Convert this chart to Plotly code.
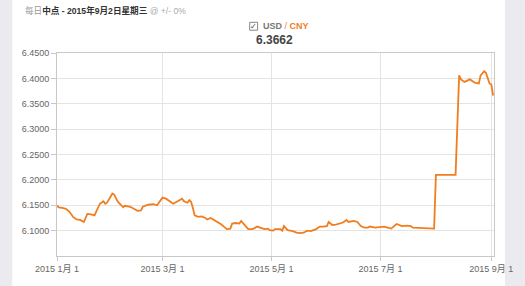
import datetime as dt
import plotly.graph_objects as go

# Day offsets from 2015-01-01 and USD/CNY central parity values
day_offsets = [0, 1, 3, 5, 7, 9, 11, 13, 15, 16, 17, 19, 21, 22, 23, 24, 26, 27, 28, 30,
               31, 32, 34, 36, 37, 38, 41, 43, 45, 47, 48, 51, 54, 56, 58, 59, 61, 63, 65, 67,
               69, 70, 71, 73, 74, 75, 76, 77, 79, 81, 83, 84, 86, 88, 90, 92, 94, 95, 97, 98,
               100, 102, 103, 105, 107, 109, 110, 112, 114, 116, 118, 119, 121, 122, 125, 126, 127, 129, 132, 134,
               136, 138, 140, 142, 145, 147, 149, 151, 152, 154, 156, 159, 160, 162, 163, 166, 168, 170, 172, 174,
               175, 178, 181, 183, 185, 187, 190, 193, 196, 198, 199, 211, 212, 223, 225, 226, 228, 231, 234, 236,
               237, 239, 240, 242, 243, 244]
rates = [6.149, 6.146, 6.145, 6.143, 6.137, 6.127, 6.122, 6.121, 6.117, 6.126, 6.133, 6.132, 6.130, 6.138, 6.147, 6.153, 6.158, 6.153, 6.155, 6.166,
         6.173, 6.171, 6.157, 6.150, 6.146, 6.149, 6.147, 6.143, 6.139, 6.140, 6.147, 6.151, 6.152, 6.150, 6.160, 6.165, 6.163, 6.158, 6.153, 6.157,
         6.160, 6.163, 6.158, 6.155, 6.160, 6.157, 6.145, 6.130, 6.127, 6.128, 6.125, 6.122, 6.125, 6.121, 6.117, 6.112, 6.106, 6.103, 6.104, 6.114,
         6.115, 6.114, 6.119, 6.112, 6.103, 6.103, 6.104, 6.108, 6.106, 6.103, 6.104, 6.101, 6.100, 6.103, 6.103, 6.100, 6.109, 6.101, 6.099, 6.096,
         6.095, 6.096, 6.100, 6.099, 6.103, 6.108, 6.108, 6.109, 6.117, 6.111, 6.112, 6.114, 6.116, 6.121, 6.117, 6.119, 6.117, 6.109, 6.106, 6.106,
         6.108, 6.106, 6.108, 6.108, 6.106, 6.104, 6.113, 6.109, 6.110, 6.109, 6.106, 6.104, 6.210, 6.210, 6.406, 6.398, 6.393, 6.398, 6.391, 6.390,
         6.406, 6.414, 6.411, 6.390, 6.388, 6.3662]

y_ticks = [6.10, 6.15, 6.20, 6.25, 6.30, 6.35, 6.40, 6.45]
y_ticktext = ["6.1000", "6.1500", "6.2000", "6.2500", "6.3000", "6.3500", "6.4000", "6.4500"]
x_ticks = ["2015-01-01", "2015-03-01", "2015-05-01", "2015-07-01", "2015-09-01"]
x_ticktext = ["2015 1月 1", "2015 3月 1", "2015 5月 1", "2015 7月 1", "2015 9月 1"]

start = dt.date(2015, 1, 1)
dates = [(start + dt.timedelta(days=d)).isoformat() for d in day_offsets]

W, H = 525, 286
ML, MR, MT, MB = 57, 28, 53, 28
PW, PH = W - ML - MR, H - MT - MB

def px(x):
    return (x - ML) / PW

def py(y):
    return (H - MB - y) / PH

ORANGE = "#f07d1e"
FONT = "Liberation Sans, Arial, Noto Sans CJK SC, sans-serif"

fig = go.Figure()
fig.add_trace(go.Scatter(x=dates, y=rates, mode="lines",
                         line=dict(color=ORANGE, width=1.8), hoverinfo="skip"))

fig.update_layout(
    width=W, height=H,
    margin=dict(l=ML, r=MR, t=MT, b=MB),
    paper_bgcolor="#ebebef",
    plot_bgcolor="white",
    showlegend=False,
    font=dict(family=FONT, size=9, color="#666"),
    xaxis=dict(
        range=["2015-01-01", "2015-09-02 12:00"],
        tickvals=x_ticks, ticktext=x_ticktext,
        showgrid=True, gridcolor="#e4e4e4", gridwidth=1,
        showline=True, linecolor="#c8c8c8", mirror=True, linewidth=1,
        ticks="outside", ticklen=4, tickcolor="#c8c8c8",
        tickfont=dict(size=9, color="#666"), zeroline=False,
    ),
    yaxis=dict(
        range=[6.05, 6.45],
        tickvals=y_ticks, ticktext=y_ticktext,
        showgrid=True, gridcolor="#e4e4e4", gridwidth=1,
        showline=True, linecolor="#c8c8c8", mirror=True, linewidth=1,
        ticks="outside", ticklen=5, tickcolor="#c8c8c8",
        tickfont=dict(size=9, color="#666"), zeroline=False,
    ),
    shapes=[
        dict(type="rect", xref="paper", yref="paper", layer="below",
             x0=px(12), x1=px(508), y0=py(-5), y1=py(H + 5),
             fillcolor="white", line=dict(width=0)),
        dict(type="rect", xref="paper", yref="paper",
             x0=px(251), x1=px(259), y0=py(30), y1=py(22),
             fillcolor="white", line=dict(color="#888", width=1)),
    ],
    annotations=[
        dict(xref="paper", yref="paper", x=px(23), y=py(10), xanchor="left", yanchor="middle",
             showarrow=False, font=dict(size=8.6, color="#333", family=FONT),
             text="<span style='color:#999'>每日</span><b>中点 - 2015年9月2日星期三</b> <span style='color:#aaa'>@ +/- 0%</span>"),
        dict(xref="paper", yref="paper", x=px(255), y=py(26), xanchor="center", yanchor="middle",
             showarrow=False, font=dict(size=8, color="#444", family="DejaVu Sans"),
             text="✓"),
        dict(xref="paper", yref="paper", x=px(262), y=py(26), xanchor="left", yanchor="middle",
             showarrow=False, font=dict(size=9, color="#777", family=FONT),
             text="<b>USD</b> <span style='color:#f07d1e'>/ <b>CNY</b></span>"),
        dict(xref="paper", yref="paper", x=px(276), y=py(39.5), xanchor="center", yanchor="middle",
             showarrow=False, font=dict(size=12, color="#444", family=FONT),
             text="<b>6.3662</b>"),
    ],
)

fig.write_html("out.html")
